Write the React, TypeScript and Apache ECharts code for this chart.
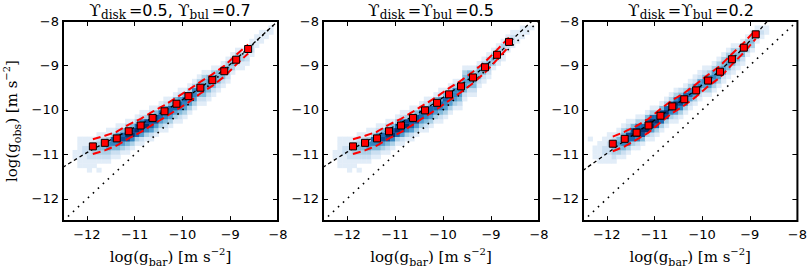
import React, { useEffect, useRef } from 'react';
import * as echarts from 'echarts';

type HeatCol = [number, number, string];

// ---------- axes ----------
const AXIS_MIN = -12.5;
const AXIS_MAX = -8;
const TICK_VALUES = [-12, -11, -10, -9, -8];
const HEAT_BIN = 0.1;
const ONE_TO_ONE = [-12.5, -8];

// ---------- binned means (red squares) ----------
const BIN_CENTERS = [-11.875, -11.625, -11.375, -11.125, -10.875, -10.625, -10.375, -10.125, -9.875, -9.625, -9.375, -9.125, -8.875, -8.625];

const P1_MEAN = [-10.82, -10.74, -10.64, -10.48, -10.35, -10.18, -10.03, -9.86, -9.69, -9.5, -9.33, -9.13, -8.87, -8.63];
const P1_UPPER = [-10.66, -10.58, -10.49, -10.33, -10.2, -10.04, -9.89, -9.72, -9.55, -9.37, -9.2, -9.01, -8.76, -8.53];
const P1_LOWER = [-10.99, -10.91, -10.8, -10.64, -10.5, -10.33, -10.17, -10.0, -9.83, -9.63, -9.46, -9.25, -8.98, -8.73];

const P2_MEAN = [-10.82, -10.74, -10.64, -10.48, -10.35, -10.18, -10.01, -9.84, -9.65, -9.47, -9.27, -9.04, -8.76, -8.47];
const P2_UPPER = [-10.66, -10.58, -10.49, -10.33, -10.2, -10.04, -9.87, -9.7, -9.51, -9.34, -9.14, -8.92, -8.65, -8.37];
const P2_LOWER = [-10.99, -10.91, -10.8, -10.64, -10.5, -10.33, -10.15, -9.98, -9.79, -9.6, -9.4, -9.16, -8.87, -8.57];

const P3_MEAN = [-10.76, -10.65, -10.51, -10.35, -10.13, -9.92, -9.76, -9.56, -9.34, -9.14, -8.86, -8.6, -8.3];
const P3_UPPER = [-10.6, -10.49, -10.36, -10.2, -9.98, -9.78, -9.62, -9.42, -9.21, -9.01, -8.74, -8.49, -8.2];
const P3_LOWER = [-10.93, -10.82, -10.67, -10.51, -10.28, -10.07, -9.9, -9.7, -9.47, -9.27, -8.98, -8.71, -8.4];

// ---------- fitted relation (black dashed) ----------
const FIT_X = [-12.5, -12, -11.5, -11, -10.5, -10, -9.5, -9, -8.5, -8];
const P1_FIT = [-11.29, -10.96, -10.67, -10.39, -10.1, -9.77, -9.4, -8.97, -8.49, -8.0];
const P2_FIT = [-11.29, -10.95, -10.65, -10.36, -10.06, -9.72, -9.34, -8.9, -8.36, -7.86];
const P3_FIT = [-11.36, -10.98, -10.6, -10.23, -9.84, -9.44, -8.99, -8.45, -7.85, -7.3];

// ---------- 2D histogram: [x left edge, y bottom edge, intensity per 0.1 dex going up] ----------
const P1_HEAT: HeatCol[] = [
  [-12.3, -11.1, '11'], [-12.2, -11.3, '1111111'], [-12.1, -11.3, '1112211'], [-12.0, -11.4, '11122211'],
  [-11.9, -11.3, '1123321'], [-11.8, -11.4, '101234321'], [-11.7, -11.2, '1234421'], [-11.6, -11.2, '12356311'],
  [-11.5, -11.1, '1246731'], [-11.4, -11.1, '12467521'], [-11.3, -11.0, '1358741'], [-11.2, -11.0, '12489631'],
  [-11.1, -10.9, '1369841'], [-11.0, -10.8, '1379731'], [-10.9, -10.8, '12589621'], [-10.8, -10.7, '1369831'],
  [-10.7, -10.7, '12578521'], [-10.6, -10.6, '1358841'], [-10.5, -10.5, '1357731'], [-10.4, -10.5, '12467521'],
  [-10.3, -10.4, '1357741'], [-10.2, -10.3, '1357741'], [-10.1, -10.3, '12467521'], [-10.0, -10.2, '1356741'],
  [-9.9, -10.1, '1356731'], [-9.8, -10.0, '1356631'], [-9.7, -9.9, '1245631'], [-9.6, -9.9, '12455431'],
  [-9.5, -9.8, '1245541'], [-9.4, -9.7, '1244531'], [-9.3, -9.6, '124441'], [-9.2, -9.5, '124431'],
  [-9.1, -9.4, '123431'], [-9.0, -9.2, '13431'], [-8.9, -9.1, '12331'], [-8.8, -9.1, '11331'],
  [-8.7, -9.0, '1221'], [-8.6, -8.8, '1221'], [-8.5, -8.6, '111'], [-8.4, -8.5, '111'],
  [-8.3, -8.4, '11'], [-8.2, -8.3, '11'],
];

const P2_HEAT: HeatCol[] = [
  [-12.3, -11.1, '11'], [-12.2, -11.3, '1111111'], [-12.1, -11.3, '1112211'], [-12.0, -11.4, '11122211'],
  [-11.9, -11.3, '1123321'], [-11.8, -11.4, '101234321'], [-11.7, -11.2, '1234421'], [-11.6, -11.2, '12356311'],
  [-11.5, -11.1, '1246731'], [-11.4, -11.1, '12467521'], [-11.3, -11.0, '1358741'], [-11.2, -11.0, '12489631'],
  [-11.1, -10.9, '1369841'], [-11.0, -10.8, '1379731'], [-10.9, -10.8, '12589621'], [-10.8, -10.7, '1369831'],
  [-10.7, -10.7, '12578521'], [-10.6, -10.6, '1358841'], [-10.5, -10.5, '1357731'], [-10.4, -10.5, '12467521'],
  [-10.3, -10.4, '1357741'], [-10.2, -10.3, '1357741'], [-10.1, -10.3, '12467521'], [-10.0, -10.2, '1356741'],
  [-9.9, -10.1, '1356731'], [-9.8, -10.0, '1356631'], [-9.7, -10.0, '1245631'], [-9.6, -9.8, '12455431'],
  [-9.5, -9.7, '1245541'], [-9.4, -9.7, '1244531'], [-9.3, -9.5, '124441'], [-9.2, -9.4, '124431'],
  [-9.1, -9.3, '123431'], [-9.0, -9.1, '13431'], [-8.9, -9.0, '12331'], [-8.8, -8.9, '11331'],
  [-8.7, -8.7, '1221'], [-8.6, -8.6, '1221'], [-8.5, -8.5, '111'], [-8.4, -8.4, '111'],
  [-8.3, -8.3, '11'], [-8.2, -8.2, '1'],
];

const P3_HEAT: HeatCol[] = [
  [-12.4, -10.7, '1'], [-12.3, -11.1, '111'], [-12.2, -11.2, '11111'], [-12.1, -11.2, '112211'],
  [-12.0, -11.2, '1122211'], [-11.9, -11.2, '1234321'], [-11.8, -11.1, '1345421'], [-11.7, -11.1, '12467431'],
  [-11.6, -11.0, '13678421'], [-11.5, -10.9, '1379841'], [-11.4, -10.9, '12699731'], [-11.3, -10.8, '1489731'],
  [-11.2, -10.7, '1399841'], [-11.1, -10.7, '12599731'], [-11.0, -10.6, '1379731'], [-10.9, -10.5, '1379841'],
  [-10.8, -10.4, '1389731'], [-10.7, -10.3, '1369731'], [-10.6, -10.3, '12589631'], [-10.5, -10.2, '1368842'],
  [-10.4, -10.1, '1368731'], [-10.3, -10.0, '1257631'], [-10.2, -9.9, '1356521'], [-10.1, -9.8, '1246521'],
  [-10.0, -9.7, '1356421'], [-9.9, -9.7, '1356531'], [-9.8, -9.6, '1356531'], [-9.7, -9.5, '1356431'],
  [-9.6, -9.4, '1255431'], [-9.5, -9.3, '1245431'], [-9.4, -9.2, '1245431'], [-9.3, -9.1, '124431'],
  [-9.2, -9.0, '124431'], [-9.1, -8.8, '13431'], [-9.0, -8.7, '13431'], [-8.9, -8.5, '1331'],
  [-8.8, -8.4, '121'], [-8.7, -8.3, '11'],
];

const TITLES = [
  '{u|ϒ}{s|disk}{e|=}{n|0.5, }{u|ϒ}{s|bul}{e|=}{n|0.7}',
  '{u|ϒ}{s|disk}{e|=}{u|ϒ}{s|bul}{e|=}{n|0.5}',
  '{u|ϒ}{s|disk}{e|=}{u|ϒ}{s|bul}{e|=}{n|0.2}',
];
const X_NAME = '{m|log(g}{sub|bar}{m|) [m s}{sup|\u22122}{m|]}';
const Y_NAME = '{m|log(g}{sub|obs}{m|) [m s}{sup|\u22122}{m|]}';

// Blues colour ramp for intensity 1..9
const PALETTE = ['', '#e2edf8', '#cbdff1', '#acd0e6', '#82bbdb', '#579fcf', '#3485bf', '#1a68ad', '#0b4b92', '#08306b'];

// ---------- layout ----------
const GRID_LEFTS = [62, 323, 583];
const GRID_TOP = 21;
const GRID_W = 216;
const GRID_H = 203;

const PANELS = [
  { heat: P1_HEAT, mean: P1_MEAN, upper: P1_UPPER, lower: P1_LOWER, fit: P1_FIT },
  { heat: P2_HEAT, mean: P2_MEAN, upper: P2_UPPER, lower: P2_LOWER, fit: P2_FIT },
  { heat: P3_HEAT, mean: P3_MEAN, upper: P3_UPPER, lower: P3_LOWER, fit: P3_FIT },
];

const heatCells = (cols: HeatCol[]) => {
  const out: number[][] = [];
  cols.forEach(([x, y0, s]) => {
    for (let i = 0; i < s.length; i++) {
      const v = Number(s[i]);
      if (v > 0) out.push([x, +(y0 + HEAT_BIN * i).toFixed(2), v]);
    }
  });
  return out;
};

const pairs = (xs: number[], ys: number[]) => ys.map((y, i) => [xs[i], y]);
const fmtMinus = (v: number) => String(v).replace('-', '\u2212');

const nameStyle = {
  fontFamily: 'DejaVu Serif',
  fontSize: 15,
  color: '#000',
  lineHeight: 22,
  rich: {
    m: { fontFamily: 'DejaVu Serif', fontSize: 15, color: '#000', lineHeight: 22 },
    sub: { fontFamily: 'DejaVu Serif', fontSize: 11, color: '#000', verticalAlign: 'bottom' },
    sup: { fontFamily: 'DejaVu Serif', fontSize: 10, color: '#000', verticalAlign: 'top' },
  },
};

function buildOption() {
  const grid: any[] = [];
  const xAxis: any[] = [];
  const yAxis: any[] = [];
  const series: any[] = [];
  const graphic: any[] = [];

  const tick = {
    show: true,
    inside: true,
    length: 5,
    customValues: TICK_VALUES,
    lineStyle: { color: '#000', width: 1 },
  };
  const labelBase = {
    show: true,
    customValues: TICK_VALUES,
    formatter: fmtMinus,
    color: '#000',
    fontSize: 13,
    fontFamily: 'DejaVu Sans',
  };
  const base = {
    type: 'value',
    min: AXIS_MIN,
    max: AXIS_MAX,
    splitLine: { show: false },
    axisLine: { show: false },
  };

  PANELS.forEach((p, i) => {
    grid.push({
      left: GRID_LEFTS[i],
      top: GRID_TOP,
      width: GRID_W,
      height: GRID_H,
      show: true,
      borderColor: '#000',
      borderWidth: 2,
      backgroundColor: 'transparent',
    });
    xAxis.push({
      ...base,
      gridIndex: i,
      position: 'bottom',
      axisTick: tick,
      axisLabel: { ...labelBase, margin: 7 },
      name: X_NAME,
      nameLocation: 'middle',
      nameGap: 23,
      nameTextStyle: nameStyle,
    });
    xAxis.push({ ...base, gridIndex: i, position: 'top', axisTick: tick, axisLabel: { show: false } });
    const yLeft: any = { ...base, gridIndex: i, position: 'left', axisTick: tick, axisLabel: { ...labelBase, margin: 4 } };
    if (i === 0) {
      yLeft.name = Y_NAME;
      yLeft.nameLocation = 'middle';
      yLeft.nameGap = 40;
      yLeft.nameTextStyle = nameStyle;
    }
    yAxis.push(yLeft);
    yAxis.push({ ...base, gridIndex: i, position: 'right', axisTick: tick, axisLabel: { show: false } });

    const xi = 2 * i;
    const yi = 2 * i;

    series.push({
      type: 'custom',
      xAxisIndex: xi,
      yAxisIndex: yi,
      z: 1,
      silent: true,
      clip: true,
      data: heatCells(p.heat),
      renderItem: (_params: any, api: any) => {
        const x0 = api.value(0) as number;
        const y0 = api.value(1) as number;
        const v = api.value(2) as number;
        const a = api.coord([x0, y0]);
        const b = api.coord([x0 + HEAT_BIN, y0 + HEAT_BIN]);
        return {
          type: 'rect',
          shape: { x: a[0], y: b[1], width: b[0] - a[0] + 0.4, height: a[1] - b[1] + 0.4 },
          style: { fill: PALETTE[v] },
        };
      },
    });
    series.push({
      type: 'line',
      xAxisIndex: xi,
      yAxisIndex: yi,
      z: 2,
      silent: true,
      symbol: 'none',
      data: pairs(ONE_TO_ONE, ONE_TO_ONE),
      lineStyle: { color: '#000', width: 1.6, type: [1.6, 5.2] },
    });
    series.push({
      type: 'line',
      xAxisIndex: xi,
      yAxisIndex: yi,
      z: 3,
      silent: true,
      symbol: 'none',
      smooth: 0.4,
      clip: true,
      data: pairs(FIT_X, p.fit),
      lineStyle: { color: '#000', width: 1.3, type: [3.5, 3] },
    });
    [p.upper, p.lower].forEach((band) => {
      series.push({
        type: 'line',
        xAxisIndex: xi,
        yAxisIndex: yi,
        z: 4,
        silent: true,
        symbol: 'none',
        data: pairs(BIN_CENTERS, band),
        lineStyle: { color: '#ff0000', width: 2, type: [8, 4] },
      });
    });
    series.push({
      type: 'scatter',
      xAxisIndex: xi,
      yAxisIndex: yi,
      z: 5,
      silent: true,
      symbol: 'rect',
      symbolSize: 7,
      data: pairs(BIN_CENTERS, p.mean),
      itemStyle: { color: '#ff0000', borderColor: '#000', borderWidth: 1, opacity: 1 },
    });

    graphic.push({
      type: 'text',
      x: GRID_LEFTS[i] + GRID_W / 2,
      y: 10,
      style: {
        text: TITLES[i],
        align: 'center',
        verticalAlign: 'middle',
        rich: {
          u: { fontFamily: 'DejaVu Serif', fontSize: 17, fill: '#000', lineHeight: 22 },
          s: { fontFamily: 'DejaVu Serif', fontSize: 12, fill: '#000', verticalAlign: 'bottom', padding: [0, 3, 0, 0] },
          e: { fontFamily: 'DejaVu Serif', fontSize: 16, fill: '#000', lineHeight: 22 },
          n: { fontFamily: 'DejaVu Sans', fontSize: 16, fill: '#000', lineHeight: 22 },
        },
      },
    });
  });

  return { animation: false, grid, xAxis, yAxis, series, graphic };
}

export default function App() {
  const ref = useRef<HTMLDivElement>(null);
  useEffect(() => {
    if (!ref.current) return;
    const chart = echarts.init(ref.current, undefined, { renderer: 'svg' });
    chart.setOption(buildOption() as any);
    return () => chart.dispose();
  }, []);
  return (
    <div
      ref={ref}
      style={{ position: 'absolute', left: 0, top: 0, width: 810, height: 273, background: '#fff' }}
    />
  );
}
